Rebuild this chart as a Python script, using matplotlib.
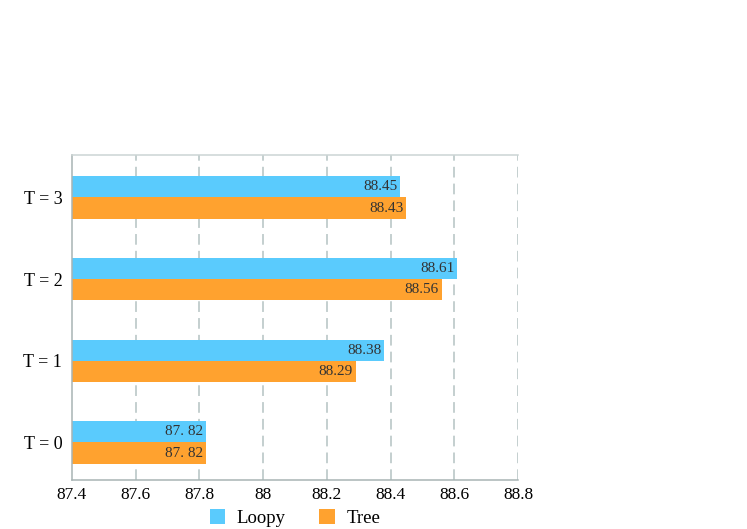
import numpy as np
import matplotlib.pyplot as plt

categories = ["T = 0", "T = 1", "T = 2", "T = 3"]
loopy = [87.82, 88.38, 88.61, 88.43]
tree = [87.82, 88.29, 88.56, 88.45]
loopy_labels = ["87. 82", "88.38", "88.61", "88.45"]
tree_labels = ["87. 82", "88.29", "88.56", "88.43"]
xticks = [87.4, 87.6, 87.8, 88.0, 88.2, 88.4, 88.6, 88.8]
xticklabels = ["87.4", "87.6", "87.8", "88", "88.2", "88.4", "88.6", "88.8"]

plt.rcParams["font.family"] = ["Liberation Serif", "DejaVu Serif"]

fig = plt.figure(figsize=(7.47, 5.29), dpi=100)
ax = fig.add_axes([72 / 747, 1 - 480 / 529, 446 / 747, 325 / 529])

y = np.arange(len(categories))
h = 0.26
base = 87.4
c_loopy = "#5ACBFD"
c_tree = "#FFA22F"

bl = ax.barh(y + h / 2, np.array(loopy) - base, left=base, height=h, color=c_loopy, label="Loopy")
bt = ax.barh(y - h / 2, np.array(tree) - base, left=base, height=h, color=c_tree, label="Tree")

for bars, labels in ((bl, loopy_labels), (bt, tree_labels)):
    for b, lab in zip(bars, labels):
        ax.text(b.get_x() + b.get_width() - 0.008, b.get_y() + b.get_height() / 2, lab,
                ha="right", va="center", fontsize=11, color="#333333")

ax.set_xlim(87.4, 88.8)
ax.set_ylim(-0.46, 3.52)
ax.set_xticks(xticks)
ax.set_xticklabels(xticklabels, fontsize=12.5)
ax.set_yticks(y)
ax.set_yticklabels(categories, fontsize=13)
ax.tick_params(length=0, pad=7)
ax.tick_params(axis="x", pad=5)

grid_c = "#B4C2C2"
for xv in xticks[1:]:
    ax.axvline(xv, color=grid_c, lw=1.1, dashes=(7, 4), zorder=0)

ax.spines["right"].set_visible(False)
ax.spines["top"].set_color("#CCD4D4")
ax.spines["left"].set_color("#A8B4B4")
ax.spines["bottom"].set_color("#A8B4B4")
for s in ("top", "left", "bottom"):
    ax.spines[s].set_linewidth(1.1)

ax.legend(loc="upper center", bbox_to_anchor=(0.5, -0.09), ncol=2, frameon=False,
          fontsize=13.5, handlelength=0.85, handleheight=0.85, columnspacing=1.8,
          handletextpad=0.6, borderaxespad=0, borderpad=0)

fig.savefig("out.png", dpi=100)
